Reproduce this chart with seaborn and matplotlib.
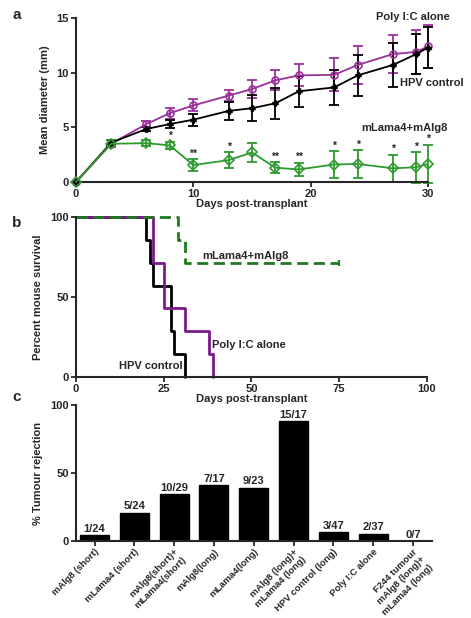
import numpy as np
import pandas as pd
import matplotlib
matplotlib.use('Agg')
import matplotlib.pyplot as plt
import seaborn as sns

# panel a: tumour growth
days = [0, 3, 6, 8, 10, 13, 15, 17, 19, 22, 24, 27, 29, 30]
polyic_mean = [0, 3.5, 5.3, 6.3, 7.0, 7.9, 8.5, 9.3, 9.75, 9.8, 10.7, 11.7, 11.9, 12.4]
polyic_err = [0, 0.3, 0.3, 0.5, 0.55, 0.5, 0.8, 0.9, 1.0, 1.5, 1.7, 1.7, 2.0, 2.0]
hpv_mean = [0, 3.6, 4.85, 5.3, 5.7, 6.5, 6.75, 7.2, 8.3, 8.65, 9.75, 10.7, 11.7, 12.3]
hpv_err = [0, 0.2, 0.2, 0.4, 0.55, 0.8, 1.2, 1.4, 1.4, 1.6, 1.85, 2.0, 1.8, 1.9]
combo_mean = [0, 3.5, 3.55, 3.35, 1.55, 2.0, 2.7, 1.3, 1.15, 1.6, 1.65, 1.25, 1.35, 1.65]
combo_err = [0, 0.3, 0.3, 0.35, 0.55, 0.7, 0.9, 0.5, 0.6, 1.2, 1.25, 1.25, 1.4, 1.75]
stars = ['', '', '', '*', '**', '*', '', '**', '**', '*', '*', '*', '*', '*']

# panel b: survival (Kaplan-Meier steps)
hpv_surv_days = [0, 20, 21, 22, 27, 28, 31]
hpv_surv = [100, 85.7, 71.4, 57.1, 28.6, 14.3, 0]
polyic_surv_days = [0, 22, 25, 31, 38, 39]
polyic_surv = [100, 71.4, 42.9, 28.6, 14.3, 0]
combo_surv_days = [0, 29, 31, 75]
combo_surv = [100, 85.7, 71.4, 71.4]

# panel c: tumour rejection
groups = ['mAlg8 (short)', 'mLama4 (short)', 'mAlg8(short)+\nmLama4(short)',
          'mAlg8(long)', 'mLama4(long)', 'mAlg8 (long)+\nmLama4 (long)',
          'HPV control (long)', 'Poly I:C alone', 'F244 tumour\nmAlg8 (long)+\nmLama4 (long)']
rejected = [1, 5, 10, 7, 9, 15, 3, 2, 0]
total = [24, 24, 29, 17, 23, 17, 47, 37, 7]

PURPLE_A = '#9b309b'
PURPLE_B = '#7a1a8c'
GREEN_A = '#2f9a2f'
GREEN_B = '#1f7a1f'

sns.set_style('ticks')
plt.rcParams['font.family'] = ['Liberation Sans', 'DejaVu Sans']
plt.rcParams['font.weight'] = 'bold'
plt.rcParams['axes.labelweight'] = 'bold'
plt.rcParams['font.size'] = 8

FS = 8


def style_axes(ax):
    sns.despine(ax=ax)
    for side in ['left', 'bottom']:
        ax.spines[side].set_linewidth(1.5)
    ax.tick_params(width=1.3, length=3.5, labelsize=FS, pad=1.5)
    for lbl in ax.get_xticklabels() + ax.get_yticklabels():
        lbl.set_fontweight('bold')


fig = plt.figure(figsize=(4.71, 6.18), dpi=100)
W, H = 471, 618


def px_axes(left, top, right, bottom):
    return fig.add_axes([left / W, 1 - bottom / H, (right - left) / W, (bottom - top) / H])


# ---- panel a ----
ax = px_axes(76, 18, 428, 182)
growth = pd.DataFrame({
    'day': days * 3,
    'mean': polyic_mean + hpv_mean + combo_mean,
    'err': polyic_err + hpv_err + combo_err,
    'group': ['Poly I:C'] * len(days) + ['HPV'] * len(days) + ['combo'] * len(days),
})
colors_a = {'Poly I:C': PURPLE_A, 'HPV': 'black', 'combo': GREEN_A}
markers_a = {'Poly I:C': 'o', 'HPV': 'P', 'combo': 'D'}
for name, sub in growth.groupby('group', sort=False):
    c = colors_a[name]
    ax.errorbar(sub['day'], sub['mean'], yerr=sub['err'], fmt='none', ecolor=c,
                elinewidth=1.3, capsize=3.5, capthick=1.3, clip_on=False, zorder=2)
    sns.lineplot(data=sub, x='day', y='mean', ax=ax, color=c, linewidth=1.3,
                 marker=markers_a[name], markersize=5 if name != 'HPV' else 3.5,
                 markerfacecolor='none' if name != 'HPV' else c,
                 markeredgecolor=c, markeredgewidth=1.2, clip_on=False, zorder=3)
for d, m, e, s in zip(days, combo_mean, combo_err, stars):
    if s:
        ax.text(d, m + e + 0.05, s, ha='center', va='bottom', fontsize=7.5, fontweight='bold')
ax.set_xlim(0, 30)
ax.set_ylim(0, 15)
ax.set_xticks([0, 10, 20, 30])
ax.set_yticks([0, 5, 10, 15])
ax.set_xlabel('Days post-transplant', labelpad=0, fontsize=FS)
ax.set_ylabel('Mean diameter (mm)', labelpad=5, fontsize=FS)
ax.text(28.7, 15.1, 'Poly I:C alone', ha='center', va='center', fontweight='bold', fontsize=FS)
ax.text(30.3, 9.05, 'HPV control', ha='center', va='center', fontweight='bold', fontsize=FS)
ax.text(28.0, 4.9, 'mLama4+mAlg8', ha='center', va='center', fontweight='bold', fontsize=FS)
style_axes(ax)

# ---- panel b ----
ax = px_axes(76, 217, 427, 377)
surv = pd.DataFrame({
    'day': hpv_surv_days + polyic_surv_days + combo_surv_days,
    'surv': hpv_surv + polyic_surv + combo_surv,
    'group': ['HPV'] * len(hpv_surv_days) + ['Poly I:C'] * len(polyic_surv_days)
             + ['combo'] * len(combo_surv_days),
})
sns.lineplot(data=surv[surv.group == 'HPV'], x='day', y='surv', ax=ax, color='black',
             linewidth=2, drawstyle='steps-post', clip_on=False)
sns.lineplot(data=surv[surv.group == 'Poly I:C'], x='day', y='surv', ax=ax, color=PURPLE_B,
             linewidth=2, drawstyle='steps-post', clip_on=False)
sns.lineplot(data=surv[surv.group == 'combo'], x='day', y='surv', ax=ax, color=GREEN_B,
             linewidth=2, linestyle=(0, (4, 2)), drawstyle='steps-post', clip_on=False)
ax.plot([combo_surv_days[-1]], [combo_surv[-1]], marker='|', color=GREEN_B, markersize=5, mew=1.5)
ax.set_xlim(0, 100)
ax.set_ylim(0, 100)
ax.set_xticks([0, 25, 50, 75, 100])
ax.set_yticks([0, 50, 100])
ax.set_xlabel('Days post-transplant', labelpad=0, fontsize=FS)
ax.set_ylabel('Percent mouse survival', labelpad=5, fontsize=FS)
ax.text(48.4, 75.6, 'mLama4+mAlg8', ha='center', va='center', fontweight='bold', fontsize=FS)
ax.text(38.7, 20, 'Poly I:C alone', ha='left', va='center', fontweight='bold', fontsize=FS)
ax.text(21.2, 6.9, 'HPV control', ha='center', va='center', fontweight='bold', fontsize=FS)
style_axes(ax)

# ---- panel c ----
ax = px_axes(76, 405, 432, 541)
rej = pd.DataFrame({'group': groups,
                    'pct': [100 * r / t for r, t in zip(rejected, total)],
                    'label': [f'{r}/{t}' for r, t in zip(rejected, total)]})
sns.barplot(data=rej, x='group', y='pct', ax=ax, color='black', width=0.73,
            edgecolor='black', linewidth=1, saturation=1)
for i, row in rej.iterrows():
    ax.text(i, row['pct'] + 1, row['label'], ha='center', va='bottom', fontsize=FS, fontweight='bold')
ax.set_xlim(-0.465, 8.48)
ax.set_ylim(0, 100)
ax.set_yticks([0, 50, 100])
ax.set_xlabel('')
ax.set_ylabel('% Tumour rejection', labelpad=5, fontsize=FS)
ax.set_xticks(range(len(groups)))
ax.set_xticklabels(groups, rotation=45, ha='right', rotation_mode='anchor',
                   multialignment='right', linespacing=1.3)
style_axes(ax)
ax.tick_params(axis='x', pad=1)
for lbl in ax.get_xticklabels():
    lbl.set_fontsize(6.8)

for letter, (x, y) in {'a': (17, 15), 'b': (17, 223), 'c': (17, 397)}.items():
    fig.text(x / W, 1 - y / H, letter, fontsize=11, fontweight='bold', ha='center', va='center')

fig.savefig('out.png', dpi=100)
